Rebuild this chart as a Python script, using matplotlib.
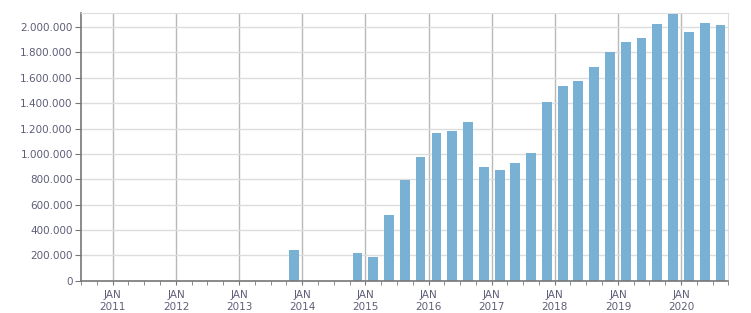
import datetime as dt
import matplotlib
matplotlib.use("Agg")
import matplotlib.pyplot as plt
import matplotlib.dates as mdates
from matplotlib.ticker import FuncFormatter, MultipleLocator

# quarterly totals (year, quarter, value)
years = [2013, 2014, 2015, 2015, 2015, 2015, 2016, 2016, 2016, 2016,
         2017, 2017, 2017, 2017, 2018, 2018, 2018, 2018,
         2019, 2019, 2019, 2019, 2020, 2020, 2020]
quarters = [4, 4, 1, 2, 3, 4, 1, 2, 3, 4,
            1, 2, 3, 4, 1, 2, 3, 4,
            1, 2, 3, 4, 1, 2, 3]
values = [242000, 218000, 187000, 518000, 794000, 975000, 1164000, 1180000, 1251000, 896000,
          873000, 928000, 1007000, 1409000, 1535000, 1575000, 1685000, 1803000,
          1882000, 1914000, 2024000, 2105000, 1961000, 2032000, 2016000]

year_ticks = list(range(2011, 2021))

BAR = "#78b1d3"
TXT = "#5e5e78"


def quarter_mid(y, q):
  start = dt.date(y, 3 * (q - 1) + 1, 1)
  return mdates.date2num(start) + 91.3 / 2


def fmt_thousands(v, pos):
  return f"{int(v):,}".replace(",", ".")


def main():
  fig = plt.figure(figsize=(7.51, 3.13), dpi=100)
  ax = fig.add_axes([0.108, 0.103, 0.862, 0.855])

  xs = [quarter_mid(y, q) for y, q in zip(years, quarters)]
  ax.bar(xs, values, width=57, color=BAR, zorder=3)

  ax.set_xlim(mdates.date2num(dt.date(2010, 7, 1)), mdates.date2num(dt.date(2020, 10, 1)))
  ax.set_ylim(0, 2110000)

  ax.xaxis.set_major_locator(mdates.YearLocator())
  ax.xaxis.set_minor_locator(mdates.MonthLocator(bymonth=[1, 4, 7, 10]))
  ax.xaxis.set_major_formatter(mdates.DateFormatter("JAN\n%Y"))
  ax.yaxis.set_major_locator(MultipleLocator(200000))
  ax.yaxis.set_major_formatter(FuncFormatter(fmt_thousands))

  ax.grid(axis="y", color="#dddddd", linewidth=1, zorder=0)
  ax.grid(axis="x", which="major", color="#b8b8b8", linewidth=1, zorder=1)

  for side in ["top", "right"]:
    ax.spines[side].set_color("#dddddd")
  for side in ["left", "bottom"]:
    ax.spines[side].set_color("#777777")
    ax.spines[side].set_linewidth(1.2)
  ax.spines["bottom"].set_zorder(4)

  ax.tick_params(axis="both", which="major", labelsize=7.5, labelcolor=TXT, color="#777777")
  ax.tick_params(axis="x", which="major", length=3, pad=4)
  ax.tick_params(axis="x", which="minor", length=3, color="#777777")
  ax.tick_params(axis="y", length=4, pad=2)
  for lbl in ax.get_xticklabels():
    lbl.set_linespacing(1.15)

  fig.savefig("out.png", dpi=100)


if __name__ == "__main__":
  main()
